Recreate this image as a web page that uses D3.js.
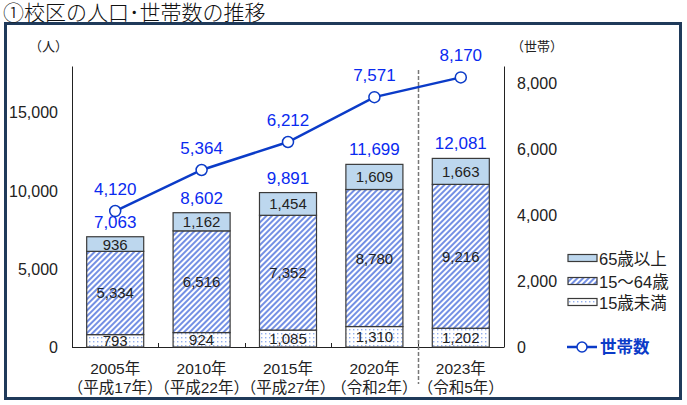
<!DOCTYPE html>
<html><head><meta charset="utf-8">
<script src="https://cdn.jsdelivr.net/npm/d3@7"></script>
<style>
body{margin:0;background:#fff;}
text{font-family:"Liberation Sans","Noto Sans CJK JP",sans-serif;}
</style></head>
<body><svg id="c" width="687" height="405"></svg>
<script>
const years = ["2005年","2010年","2015年","2020年","2023年"];
const eras = ["（平成17年）","（平成22年）","（平成27年）","（令和2年）","（令和5年）"];
const age65 = [936,1162,1454,1609,1663];
const age15to64 = [5334,6516,7352,8780,9216];
const under15 = [793,924,1085,1310,1202];
const totals = [7063,8602,9891,11699,12081];
const households = [4120,5364,6212,7571,8170];
const leftTicks = [0,5000,10000,15000];
const rightTicks = [0,2000,4000,6000,8000];

const svg = d3.select("#c");
const defs = svg.append("defs");
const hatch = defs.append("pattern").attr("id","hatch").attr("patternUnits","userSpaceOnUse")
  .attr("width",4).attr("height",4).attr("patternTransform","rotate(45)");
hatch.append("rect").attr("width",4).attr("height",4).attr("fill","#fff");
hatch.append("rect").attr("width",2).attr("height",4).attr("fill","#7490e4");
const dots = defs.append("pattern").attr("id","dots").attr("patternUnits","userSpaceOnUse")
  .attr("width",4).attr("height",4);
dots.append("rect").attr("width",4).attr("height",4).attr("fill","#fff");
dots.append("rect").attr("x",1).attr("y",1).attr("width",1.4).attr("height",1.4).attr("fill","#94b0ee");

// border
svg.append("rect").attr("x",5.5).attr("y",23.5).attr("width",675).attr("height",375)
  .attr("fill","none").attr("stroke","#1f3a5a").attr("stroke-width",3);
svg.append("text").attr("x",3).attr("y",20).attr("font-size",21).attr("font-weight",300)
  .attr("font-family","Noto Sans CJK JP").attr("fill","#111").text("①校区の人口･世帯数の推移");

const x0=72, x1=504, yB=347, yT=66;
const x = d3.scaleBand().domain(years).range([x0,x1]).paddingInner(0.34).paddingOuter(0.17);
const band = (x1-x0)/years.length;
const yL = d3.scaleLinear().domain([0,18000]).range([yB,yT]);
const yR = d3.scaleLinear().domain([0,8515]).range([yB,yT]);

// axes
const fmt = d3.format(",");
const gl = svg.append("g").attr("transform",`translate(${x0},0)`)
  .call(d3.axisLeft(yL).tickValues(leftTicks).tickSize(0).tickPadding(14).tickFormat(fmt));
gl.select(".domain").attr("stroke","#222");
gl.selectAll("text").attr("font-size",16).attr("fill","#222");
const gr = svg.append("g").attr("transform",`translate(${x1},0)`)
  .call(d3.axisRight(yR).tickValues(rightTicks).tickSize(0).tickPadding(13).tickFormat(fmt));
gr.select(".domain").attr("stroke","#222");
gr.selectAll("text").attr("font-size",16).attr("fill","#222");
svg.append("line").attr("x1",x0).attr("x2",x1).attr("y1",yB+0.5).attr("y2",yB+0.5).attr("stroke","#222");
for(let i=1;i<years.length;i++){
  const xx = Math.round(x0+band*i)+0.5;
  svg.append("line").attr("x1",xx).attr("x2",xx).attr("y1",yB).attr("y2",yB-4).attr("stroke","#222");
}
svg.append("text").attr("x",29).attr("y",51).attr("font-size",13).attr("fill","#222").attr("font-family","Noto Sans CJK JP").text("（人）");
svg.append("text").attr("x",511).attr("y",51).attr("font-size",13).attr("fill","#222").attr("font-family","Noto Sans CJK JP").text("（世帯）");

// dashed separator
const xs = Math.round(x0+band*4)+0.5;
svg.append("line").attr("x1",xs).attr("x2",xs).attr("y1",70).attr("y2",384)
  .attr("stroke","#777").attr("stroke-width",1.5).attr("stroke-dasharray","4,2");

// bars
const segs = [
  {vals:under15, fill:"url(#dots)"},
  {vals:age15to64, fill:"url(#hatch)"},
  {vals:age65, fill:"#bdd7ee"}
];
years.forEach((yr,i)=>{
  let cum=0;
  segs.forEach(s=>{
    const v=s.vals[i];
    const yTop=yL(cum+v), yBot=yL(cum);
    svg.append("rect").attr("x",x(yr)).attr("y",yTop).attr("width",x.bandwidth()).attr("height",yBot-yTop)
      .attr("fill",s.fill).attr("stroke","#3a3a3a").attr("stroke-width",1.2);
    svg.append("text").attr("x",x(yr)+x.bandwidth()/2).attr("y",(yTop+yBot)/2+5.5)
      .attr("text-anchor","middle").attr("font-size",15).attr("fill","#222").text(fmt(v));
    cum+=v;
  });
  svg.append("text").attr("x",x(yr)+x.bandwidth()/2).attr("y",yL(totals[i])-9)
    .attr("text-anchor","middle").attr("font-size",17).attr("fill","#0a2af0").text(fmt(totals[i]));
  svg.append("text").attr("x",x(yr)+x.bandwidth()/2).attr("y",374)
    .attr("text-anchor","middle").attr("font-size",15.5).attr("fill","#222").text(yr);
  svg.append("text").attr("x",x(yr)+x.bandwidth()/2).attr("y",393)
    .attr("text-anchor","middle").attr("font-size",15.5).attr("fill","#222").text(eras[i]);
});

// line
const cx = d=>x(d)+x.bandwidth()/2;
const line = d3.line().x((d,i)=>cx(years[i])).y(d=>yR(d));
svg.append("path").datum(households).attr("d",line).attr("fill","none").attr("stroke","#0b3bc8").attr("stroke-width",2.5);
households.forEach((v,i)=>{
  svg.append("circle").attr("cx",cx(years[i])).attr("cy",yR(v)).attr("r",5.5)
    .attr("fill","#fff").attr("stroke","#0b3bc8").attr("stroke-width",1.5);
  svg.append("text").attr("x",cx(years[i])).attr("y",yR(v)-16)
    .attr("text-anchor","middle").attr("font-size",17).attr("fill","#0a2af0").text(fmt(v));
});

// legend
const leg = [
  {label:"65歳以上", fill:"#bdd7ee", y:258},
  {label:"15～64歳", fill:"url(#hatch)", y:281},
  {label:"15歳未満", fill:"url(#dots)", y:302}
];
leg.forEach(l=>{
  svg.append("rect").attr("x",568).attr("y",l.y-3.5).attr("width",29).attr("height",7)
    .attr("fill",l.fill).attr("stroke","#3a3a3a").attr("stroke-width",1.2);
  svg.append("text").attr("x",599).attr("y",l.y+6.5).attr("font-size",16.5).attr("fill","#222")
    .attr("font-family","Noto Sans CJK JP").text(l.label);
});
svg.append("line").attr("x1",567).attr("x2",597).attr("y1",347).attr("y2",347).attr("stroke","#0b3bc8").attr("stroke-width",2.5);
svg.append("circle").attr("cx",582).attr("cy",347).attr("r",5).attr("fill","#fff").attr("stroke","#0b3bc8").attr("stroke-width",1.5);
svg.append("text").attr("x",600).attr("y",353).attr("font-size",16.5).attr("font-weight","bold").attr("fill","#0b3bc8")
  .attr("font-family","Noto Sans CJK JP").text("世帯数");
</script></body></html>
